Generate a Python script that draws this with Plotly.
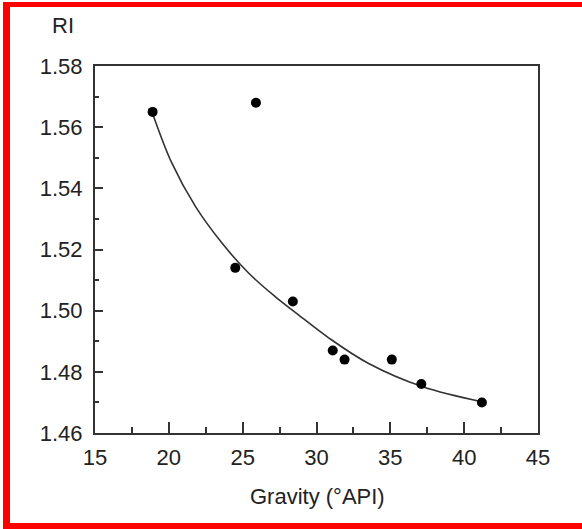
import plotly.graph_objects as go

# Data
gravity_api = [18.9, 25.9, 24.5, 28.4, 31.1, 31.9, 35.1, 37.1, 41.2]
ri_values = [1.565, 1.568, 1.514, 1.503, 1.487, 1.484, 1.484, 1.476, 1.470]

# Fitted curve
curve_x = [18.9, 20.2, 21.8, 23.6, 25.4, 27.2, 28.6, 30.8, 33.5, 37.2, 41.2]
curve_y = [1.5645, 1.5483, 1.5341, 1.5221, 1.5123, 1.5046, 1.4993, 1.4912, 1.4828, 1.4751, 1.4702]

x_ticks = [15, 20, 25, 30, 35, 40, 45]
y_ticks = [1.46, 1.48, 1.50, 1.52, 1.54, 1.56, 1.58]

W, H = 582, 529
L, R, T, B = 95, 44, 66, 96
PW, PH = W - L - R, H - T - B


def px(x):
    return (x - L) / PW


def py(y):
    return (H - B - y) / PH


fig = go.Figure()
fig.add_trace(go.Scatter(x=curve_x, y=curve_y, mode="lines",
                         line=dict(color="#333333", width=1.6, shape="spline", smoothing=1.0),
                         hoverinfo="skip", showlegend=False))
fig.add_trace(go.Scatter(x=gravity_api, y=ri_values, mode="markers",
                         marker=dict(color="black", size=10),
                         showlegend=False))

font = dict(family="Liberation Sans, Arial, sans-serif", size=22, color="#222222")

fig.update_xaxes(range=[15, 45], tickvals=x_ticks, ticktext=[str(v) for v in x_ticks],
                 ticks="inside", ticklen=11, tickwidth=2, tickcolor="#333333",
                 minor=dict(ticks="inside", ticklen=6, tickwidth=2, tickcolor="#333333",
                            tickvals=[17.5, 22.5, 27.5, 32.5, 37.5, 42.5]),
                 showline=True, linecolor="#333333", linewidth=2, mirror=True,
                 showgrid=False, zeroline=False, tickfont=font, ticklabelstandoff=4)
fig.update_yaxes(range=[1.46, 1.58], tickvals=y_ticks, ticktext=[f"{v:.2f}" for v in y_ticks],
                 ticks="inside", ticklen=8, tickwidth=2, tickcolor="#333333",
                 minor=dict(ticks="inside", ticklen=4, tickwidth=2, tickcolor="#333333",
                            tickvals=[1.47, 1.49, 1.51, 1.53, 1.55, 1.57]),
                 showline=True, linecolor="#333333", linewidth=2, mirror=True,
                 showgrid=False, zeroline=False, tickfont=font, ticklabelstandoff=6)

red = "#ff0000"
shapes = [
    dict(type="rect", xref="paper", yref="paper", x0=px(3), x1=px(10), y0=py(529), y1=py(2),
         fillcolor=red, line=dict(width=0), layer="above"),
    dict(type="rect", xref="paper", yref="paper", x0=px(3), x1=px(582), y0=py(7), y1=py(2),
         fillcolor=red, line=dict(width=0), layer="above"),
    dict(type="rect", xref="paper", yref="paper", x0=px(3), x1=px(582), y0=py(529), y1=py(523),
         fillcolor=red, line=dict(width=0), layer="above"),
]

annotations = [
    dict(text="RI", xref="paper", yref="paper", x=px(63), y=py(25), showarrow=False,
         xanchor="center", yanchor="middle", font=font),
    dict(text="Gravity (°API)", xref="paper", yref="paper", x=px(317), y=py(496), showarrow=False,
         xanchor="center", yanchor="middle", font=font),
]

fig.update_layout(width=W, height=H, margin=dict(l=L, r=R, t=T, b=B),
                  paper_bgcolor="white", plot_bgcolor="white",
                  shapes=shapes, annotations=annotations, showlegend=False)

fig.write_html("out.html")
